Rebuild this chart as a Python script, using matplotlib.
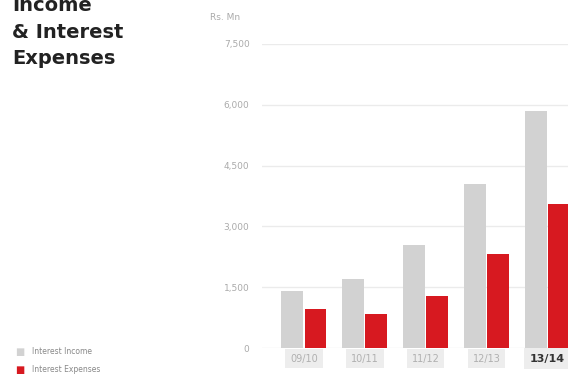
import matplotlib
matplotlib.use("Agg")
import matplotlib.pyplot as plt
import numpy as np

# data (Rs. Mn)
years = ["09/10", "10/11", "11/12", "12/13", "13/14"]
interest_income = [1400, 1700, 2550, 4050, 5850]
interest_expenses = [950, 850, 1280, 2330, 3550]
ticks = [0, 1500, 3000, 4500, 6000, 7500]
tick_labels = ["0", "1,500", "3,000", "4,500", "6,000", "7,500"]

grey = "#d2d2d2"
red = "#d71920"

fig = plt.figure(figsize=(5.68, 3.76), dpi=100)
ax = fig.add_axes([262/568, 1 - 348/376, 1 - 262/568, (348 - 44)/376])

x = np.arange(len(years))
w = 0.36
ax.bar(x - w/2 - 0.01, interest_income, width=w, color=grey, zorder=3)
ax.bar(x + w/2 + 0.01, interest_expenses, width=w, color=red, zorder=3)

ax.set_xlim(-0.69, 4.34)
ax.set_ylim(0, 7500)
ax.set_yticks(ticks)
ax.set_yticklabels(tick_labels, fontsize=6.5, color="#aaaaaa")
ax.yaxis.grid(True, color="#ebebeb", linewidth=1.0, zorder=0)
ax.tick_params(axis="y", length=0, pad=9)
ax.tick_params(axis="x", length=0, pad=4)
ax.set_xticks(x)
ax.set_xticklabels(years, fontsize=7, color="#b0b0b0")
for i, lab in enumerate(ax.get_xticklabels()):
    lab.set_bbox(dict(facecolor="#ededed", edgecolor="none", pad=3.5))
    if i == len(years) - 1:
        lab.set_color("#333333")
        lab.set_fontweight("bold")
        lab.set_fontsize(8)
for s in ax.spines.values():
    s.set_visible(False)

fig.text(210/568, 1 - 18/376, "Rs. Mn", fontsize=6.5, color="#aaaaaa", va="center")

fig.text(12/568, 1 - 32/376, "Income\n& Interest\nExpenses", fontsize=14,
         fontweight="bold", color="#222222", linespacing=1.5, va="center")

fig.text(20/568, 1 - 352/376, "\u25a0", fontsize=7, color=grey, va="center", ha="center")
fig.text(32/568, 1 - 352/376, "Interest Income", fontsize=5.5, color="#888888", va="center")
fig.text(20/568, 1 - 370/376, "\u25a0", fontsize=7, color=red, va="center", ha="center")
fig.text(32/568, 1 - 370/376, "Interest Expenses", fontsize=5.5, color="#888888", va="center")

fig.savefig("out.png", dpi=100)
